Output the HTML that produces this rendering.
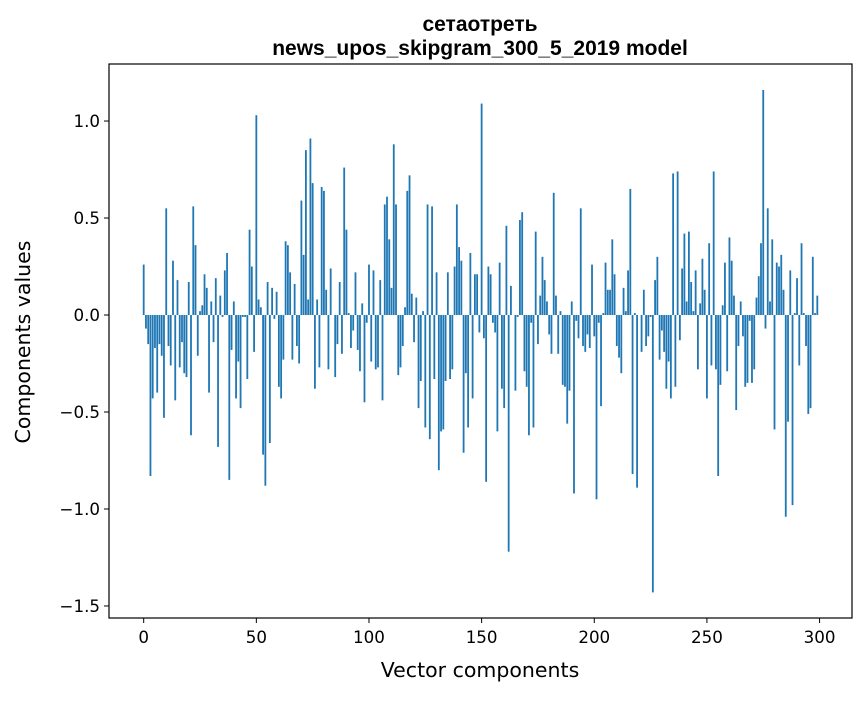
<!DOCTYPE html>
<html><head><meta charset="utf-8"><style>
body{margin:0;background:#fff;}
svg text{font-family:"DejaVu Sans","Liberation Sans",sans-serif;}
svg text.ttl{font-family:"Liberation Sans",sans-serif;}
</style></head><body>
<svg id="chart" width="867" height="696" viewBox="0 0 867 696" xmlns="http://www.w3.org/2000/svg">
<text class="ttl" x="480" y="31" text-anchor="middle" font-size="21" font-weight="bold">сетаотреть</text>
<text class="ttl" x="480" y="55" text-anchor="middle" font-size="21" font-weight="bold">news_upos_skipgram_300_5_2019 model</text>
<g id="bars"></g>
<g id="xticks"></g>
<g id="yticks"></g>
<rect x="109" y="64" width="743" height="554" fill="none" stroke="#000" stroke-width="1.2"/>
<text x="480" y="677" text-anchor="middle" font-size="20.5">Vector components</text>
<text transform="translate(30,342) rotate(-90)" text-anchor="middle" font-size="20.5">Components values</text>
</svg>
<script>
const values = [0.26,-0.07,-0.15,-0.83,-0.43,-0.17,-0.4,-0.15,-0.21,-0.53,
0.55,-0.16,-0.26,0.28,-0.44,0.18,-0.27,-0.14,-0.3,-0.32,
0.17,-0.62,0.56,0.36,-0.21,0.02,0.05,0.21,0.14,-0.4,
0.07,-0.14,0.19,-0.68,0.1,-0.01,0.23,0.32,-0.85,-0.18,
0.07,-0.43,-0.24,-0.48,-0.01,-0.01,-0.33,0.44,0.25,-0.19,
1.03,0.08,0.04,-0.72,-0.88,0.17,-0.66,0.14,-0.02,0.12,
-0.37,-0.43,-0.23,0.38,0.36,0.22,-0.23,0.16,-0.16,-0.25,
0.59,0.31,0.85,0.08,0.91,0.68,-0.38,0.08,-0.27,0.66,
0.64,0.13,-0.28,0.24,0.0,-0.32,-0.15,0.17,-0.2,0.76,
0.44,0.01,-0.17,-0.08,0.22,-0.18,-0.29,0.06,-0.45,-0.04,
0.26,-0.24,0.23,-0.28,-0.27,0.18,-0.44,0.57,0.61,0.39,
0.14,0.88,0.57,-0.31,-0.27,-0.16,0.04,0.64,0.72,0.11,
-0.14,0.09,-0.48,-0.34,0.02,-0.58,0.57,-0.64,0.56,-0.33,
0.22,-0.8,-0.6,-0.59,-0.34,0.22,-0.33,-0.28,0.25,0.57,
0.35,0.28,-0.71,-0.3,-0.58,0.32,-0.43,0.21,0.21,-0.09,
1.09,-0.12,-0.86,0.25,0.21,-0.04,-0.09,-0.6,0.27,-0.38,
-0.48,0.46,-1.22,0.15,0.0,-0.39,-0.01,0.49,0.53,-0.29,
-0.37,-0.62,-0.04,-0.58,0.43,-0.15,0.1,0.3,0.18,0.07,
-0.1,-0.2,0.63,0.1,-0.2,0.02,-0.36,-0.37,-0.56,-0.39,
0.07,-0.92,-0.03,-0.12,0.55,-0.16,-0.19,-0.1,-0.17,0.26,
-0.11,-0.95,-0.04,-0.47,0.01,0.27,0.13,0.13,0.39,0.21,
-0.16,-0.22,-0.3,0.14,0.02,0.23,0.65,-0.82,0.01,-0.89,
0.0,-0.19,0.13,-0.16,-0.11,-0.01,-1.43,0.18,0.3,-0.23,
-0.08,-0.19,-0.38,-0.24,-0.43,0.73,-0.37,0.74,-0.13,0.24,
0.42,0.07,0.43,0.17,0.02,0.23,-0.28,0.06,0.29,0.13,
-0.43,0.37,-0.26,0.74,-0.28,-0.83,-0.36,0.05,0.27,-0.29,
0.4,0.28,0.1,-0.49,-0.16,0.07,-0.11,-0.37,-0.35,-0.03,
-0.35,-0.28,0.09,0.2,0.37,1.16,-0.07,0.55,0.07,0.39,
-0.59,0.27,0.25,0.31,0.13,-1.04,-0.55,0.23,-0.98,0.01,
0.19,-0.26,0.37,0.01,-0.16,-0.51,-0.48,0.3,0.01,0.1];
const xTicks = [0,50,100,150,200,250,300];
const yTicks = [-1.5,-1.0,-0.5,0.0,0.5,1.0];
const yTickLabels = ["\u22121.5","\u22121.0","\u22120.5","0.0","0.5","1.0"];

const NS="http://www.w3.org/2000/svg";
const L=109,R=852,T=64,B=618;
const xMin=-15.4,xMax=314.4,yMin=-1.562,yMax=1.294;
const xs=v=>L+(v-xMin)/(xMax-xMin)*(R-L);
const ys=v=>B-(v-yMin)/(yMax-yMin)*(B-T);
const bars=document.getElementById('bars');
values.forEach((v,i)=>{
  const r=document.createElementNS(NS,'rect');
  const x0=xs(i-0.4),x1=xs(i+0.4);
  const y0=ys(Math.max(v,0)),y1=ys(Math.min(v,0));
  r.setAttribute('x',x0);r.setAttribute('width',x1-x0);
  r.setAttribute('y',y0);r.setAttribute('height',Math.max(y1-y0,0));
  r.setAttribute('fill','#1f77b4');
  
  
  bars.appendChild(r);
});
const xg=document.getElementById('xticks');
xTicks.forEach(t=>{
  const x=xs(t);
  const l=document.createElementNS(NS,'line');
  l.setAttribute('x1',x);l.setAttribute('x2',x);l.setAttribute('y1',B);l.setAttribute('y2',B+5);
  l.setAttribute('stroke','#000');
  
  
  xg.appendChild(l);
  const tx=document.createElementNS(NS,'text');
  tx.setAttribute('x',x);tx.setAttribute('y',B+25);tx.setAttribute('text-anchor','middle');tx.setAttribute('font-size','16.7');
  tx.textContent=t;
  
  
  xg.appendChild(tx);
});
const yg=document.getElementById('yticks');
yTicks.forEach((t,i)=>{
  const y=ys(t);
  const l=document.createElementNS(NS,'line');
  l.setAttribute('x1',L-5);l.setAttribute('x2',L);l.setAttribute('y1',y);l.setAttribute('y2',y);
  l.setAttribute('stroke','#000');
  
  
  yg.appendChild(l);
  const tx=document.createElementNS(NS,'text');
  tx.setAttribute('x',L-9);tx.setAttribute('y',y+6);tx.setAttribute('text-anchor','end');tx.setAttribute('font-size','16.7');
  tx.textContent=yTickLabels[i];
  
  
  yg.appendChild(tx);
});
</script>
</body></html>
